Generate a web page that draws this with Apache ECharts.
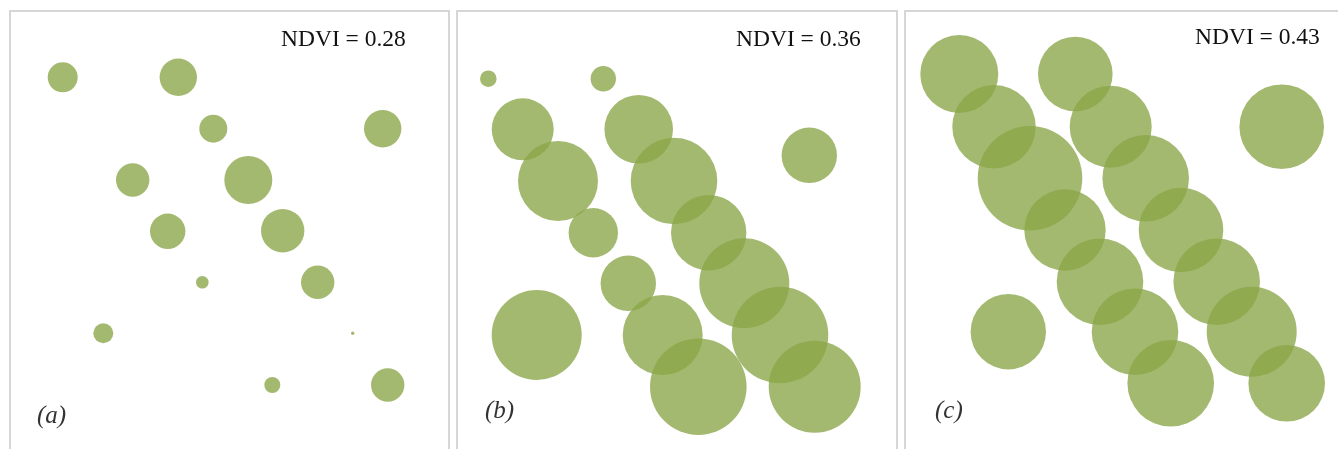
<!DOCTYPE html>
<html>
<head>
<meta charset="utf-8">
<script src="https://cdn.jsdelivr.net/npm/echarts@6/dist/echarts.min.js"></script>
<style>
html,body{margin:0;padding:0;background:#fff;}
#chart{width:1338px;height:449px;}
</style>
</head>
<body>
<div id="chart"></div>
<script>
// Panel labels and NDVI values
const panelLabels = ['(a)', '(b)', '(c)'];
const ndviValues = ['0.28', '0.36', '0.43'];

// Crown positions (x, y measured from panel top) and radii, in panel units (1 unit = 1 px of panel)
const crownsA_x = [52.7, 168.3, 203.3, 372.7, 122.7, 238.3, 157.7, 272.7, 192.3, 307.7, 93.3, 342.7, 262.3, 377.7];
const crownsA_y = [66.3, 66.3, 117.7, 117.7, 169, 169, 220.3, 219.7, 271.3, 271.3, 322.3, 322.3, 374, 374];
const crownsA_r = [15, 18.7, 14, 18.7, 16.7, 24, 17.7, 21.7, 6.3, 16.7, 10, 1.7, 8, 16.7];

const crownsB_x = [31.3, 146.3, 65.7, 181.7, 352.3, 101, 217, 136.3, 251.7, 171.3, 287.3, 79.7, 205.7, 323, 241.3, 357.7];
const crownsB_y = [67.7, 67.7, 118.3, 118.3, 144.3, 170, 170, 221.7, 221.7, 272.3, 272.3, 324, 324, 324, 375.7, 375.7];
const crownsB_r = [8.3, 12.7, 31, 34.3, 27.7, 40, 43.3, 24.7, 37.7, 27.7, 45, 45, 40, 48.3, 48.3, 46];

const crownsC_x = [54.3, 170.3, 89, 205.7, 376.7, 125, 240.7, 160, 276, 195, 311.7, 103.3, 230, 346.7, 265.7, 381.7];
const crownsC_y = [63, 63, 115.7, 115.7, 115.7, 167.3, 167.3, 219, 219, 270.7, 270.7, 320.7, 320.7, 320.7, 372.3, 372.3];
const crownsC_r = [39, 37.3, 41.7, 41, 42.3, 52.3, 43.3, 40.7, 42.3, 43.3, 43.3, 37.7, 43.3, 45, 43.3, 38.3];

const panels = [
  {left: 10, top: 11, width: 439, height: 445, xs: crownsA_x, ys: crownsA_y, rs: crownsA_r},
  {left: 457, top: 11, width: 440, height: 445, xs: crownsB_x, ys: crownsB_y, rs: crownsB_r},
  {left: 905, top: 11, width: 450, height: 445, xs: crownsC_x, ys: crownsC_y, rs: crownsC_r}
];
const ndviPos = [{x: 281, y: 42}, {x: 736, y: 42}, {x: 1195, y: 40}];
const labelPos = [{x: 37, y: 418}, {x: 485, y: 413}, {x: 935, y: 413}];

const fillColor = 'rgb(138,165,72)';
const fillOpacity = 0.78;

const chart = echarts.init(document.getElementById('chart'), null, {renderer: 'canvas'});

const grid = [], xAxis = [], yAxis = [], series = [], graphic = [];
panels.forEach((p, i) => {
  grid.push({left: p.left, top: p.top, width: p.width, height: p.height, show: true,
    outerBoundsMode: 'none', containLabel: false,
    borderColor: '#d6d6d6', borderWidth: 2, backgroundColor: '#fff'});
  xAxis.push({gridIndex: i, type: 'value', min: 0, max: p.width, show: false});
  yAxis.push({gridIndex: i, type: 'value', min: 0, max: p.height, inverse: true, show: false});
  const data = p.xs.map((x, k) => [x, p.ys[k], p.rs[k]]);
  series.push({
    type: 'scatter', xAxisIndex: i, yAxisIndex: i, data: data,
    symbol: 'circle',
    symbolSize: v => v[2] * 2,
    itemStyle: {color: fillColor, opacity: fillOpacity},
    emphasis: {disabled: true},
    large: false,
    silent: true, animation: false
  });
  graphic.push({type: 'text', left: ndviPos[i].x, top: ndviPos[i].y - 14, silent: true,
    style: {text: 'NDVI = ' + ndviValues[i], font: '23.5px "Liberation Serif", serif', fill: '#111'}});
  graphic.push({type: 'text', left: labelPos[i].x, top: labelPos[i].y - 14, silent: true,
    style: {text: panelLabels[i], font: 'italic 25px "Liberation Serif", serif', fill: '#333'}});
});

chart.setOption({
  animation: false,
  backgroundColor: '#fff',
  grid, xAxis, yAxis, series, graphic
});
</script>
</body>
</html>
